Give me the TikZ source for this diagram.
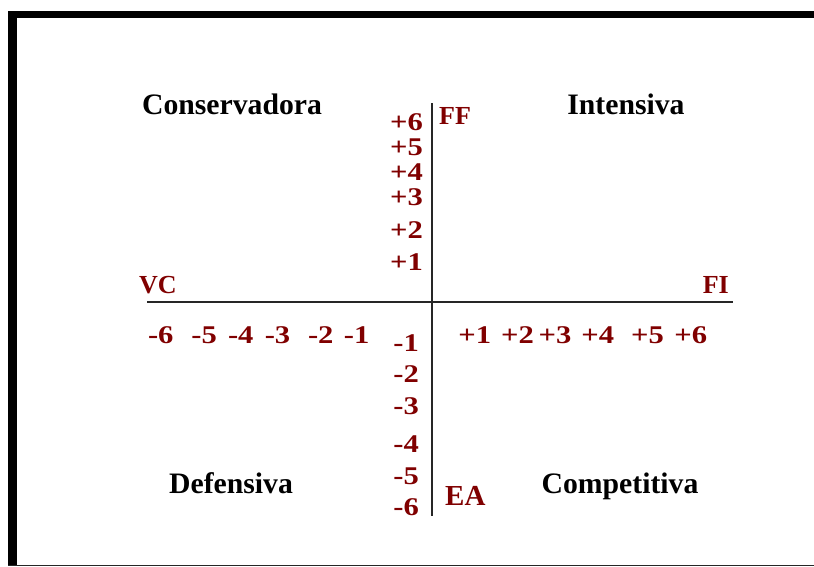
\documentclass[tikz,border=0pt]{standalone}
\usepackage{fontspec}
\setmainfont{Liberation Serif}
\definecolor{redlab}{RGB}{128,0,0}
\newcommand{\dg}[1]{\scalebox{1.2}[1]{#1}}
\tikzset{
  quad/.style={inner sep=0pt, font=\bfseries\fontsize{29.7}{32}\selectfont, text=black},
  axlab/.style={inner sep=0pt, font=\bfseries\fontsize{26}{28}\selectfont, text=redlab},
  tick/.style={inner sep=0pt, font=\bfseries\fontsize{25.5}{27}\selectfont, text=redlab},
  axis/.style={line width=1.8pt, draw=black!85},
}
\begin{document}
\begin{tikzpicture}[x=1pt,y=-1pt]
\useasboundingbox (0,0) rectangle (814,566);
% frame
\fill[black] (8.3,10.7) rectangle (814,18.3);
\fill[black] (8.3,10.7) rectangle (16.7,566);
\fill[black!85] (8.3,564.6) rectangle (814,566);
% axes
\coordinate (xl) at (147,302);
\coordinate (xr) at (733,302);
\coordinate (yt) at (432,103);
\coordinate (yb) at (432,516);
\draw[axis] (xl) -- (xr);
\draw[axis] (yt) -- (yb);
% quadrant labels
\node[quad, anchor=base] (cons) at (232,114) {Conservadora};
\node[quad, anchor=base] (inte) at (626,114) {Intensiva};
\node[quad, anchor=base] (defe) at (231,493) {Defensiva};
\node[quad, anchor=base] (comp) at (620,493) {Competitiva};
% axis end labels
\node[axlab, anchor=base west] (ff) at (439,124) {FF};
\node[axlab, anchor=base west] (vc) at (139,293) {VC};
\node[axlab, anchor=base east] (fi) at (729,293) {FI};
\node[axlab, anchor=base west, font=\bfseries\fontsize{29}{32}\selectfont] (ea) at (445,505) {EA};
% vertical positive ticks
\node[tick, anchor=base east] (vp6) at (423,130) {\dg{+6}};
\node[tick, anchor=base east] (vp5) at (423,155) {\dg{+5}};
\node[tick, anchor=base east] (vp4) at (423,180) {\dg{+4}};
\node[tick, anchor=base east] (vp3) at (423,205) {\dg{+3}};
\node[tick, anchor=base east] (vp2) at (423,238) {\dg{+2}};
\node[tick, anchor=base east] (vp1) at (423,270) {\dg{+1}};
% vertical negative ticks
\node[tick, anchor=base east] (vn1) at (419,351) {\dg{-1}};
\node[tick, anchor=base east] (vn2) at (419,382) {\dg{-2}};
\node[tick, anchor=base east] (vn3) at (419,414) {\dg{-3}};
\node[tick, anchor=base east] (vn4) at (419,452) {\dg{-4}};
\node[tick, anchor=base east] (vn5) at (419,484) {\dg{-5}};
\node[tick, anchor=base east] (vn6) at (419,515) {\dg{-6}};
% horizontal negative ticks
\node[tick, anchor=base] (hn6) at (160.8,343) {\dg{-6}};
\node[tick, anchor=base] (hn5) at (204.2,343) {\dg{-5}};
\node[tick, anchor=base] (hn4) at (240.8,343) {\dg{-4}};
\node[tick, anchor=base] (hn3) at (277.5,343) {\dg{-3}};
\node[tick, anchor=base] (hn2) at (320.8,343) {\dg{-2}};
\node[tick, anchor=base] (hn1) at (356.7,343) {\dg{-1}};
% horizontal positive ticks
\node[tick, anchor=base] (hp1) at (474.7,343) {\dg{+1}};
\node[tick, anchor=base] (hp2) at (517.5,343) {\dg{+2}};
\node[tick, anchor=base] (hp3) at (555,343) {\dg{+3}};
\node[tick, anchor=base] (hp4) at (597.8,343) {\dg{+4}};
\node[tick, anchor=base] (hp5) at (647.5,343) {\dg{+5}};
\node[tick, anchor=base] (hp6) at (690.8,343) {\dg{+6}};
\end{tikzpicture}
\end{document}
